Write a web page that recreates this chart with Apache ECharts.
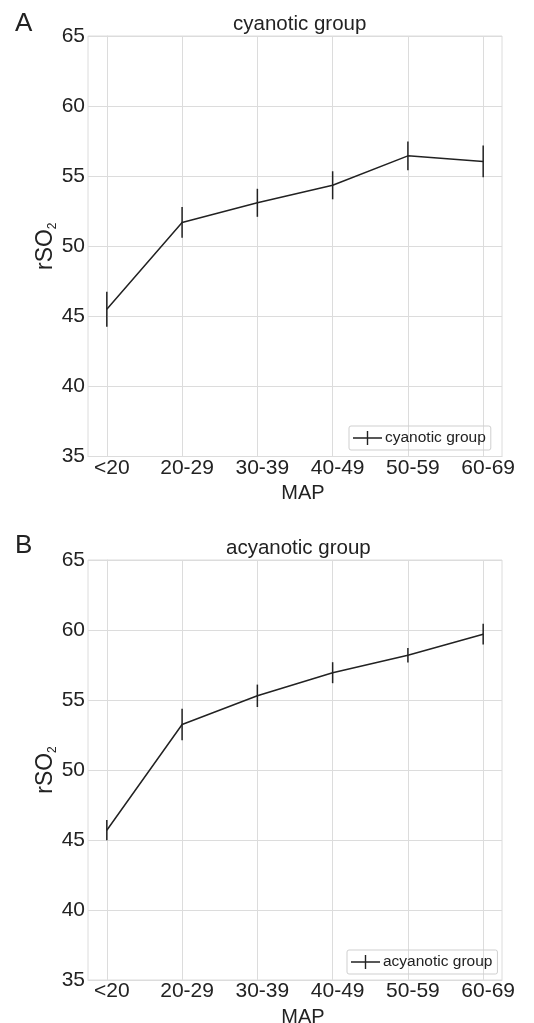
<!DOCTYPE html>
<html>
<head>
<meta charset="utf-8">
<script src="https://cdn.jsdelivr.net/npm/echarts@6/dist/echarts.min.js"></script>
<style>
  html, body { margin: 0; padding: 0; background: #fff; }
  #main { width: 534px; height: 1023px; }
</style>
</head>
<body>
<div id="main"></div>
<script>
// MAP groups on the x axis
var mapGroups = ['<20', '20-29', '30-39', '40-49', '50-59', '60-69'];
var yTicks = [35, 40, 45, 50, 55, 60, 65];

// rSO2 mean and error half-width
var cyanoticMean = [45.5, 51.7, 53.1, 54.35, 56.45, 56.05];
var cyanoticErr = [1.25, 1.1, 1.0, 1.0, 1.03, 1.13];
var acyanoticMean = [45.7, 53.25, 55.3, 56.95, 58.2, 59.7];
var acyanoticErr = [0.72, 1.13, 0.8, 0.75, 0.52, 0.74];

var FONT = 'Liberation Sans, Arial, sans-serif';
var INK = '#222';
var GRID_LINE = '#dcdcdc';
var crossIcon = 'path://M0,6.3 L29,6.3 L29,7.7 L0,7.7 Z M13.8,0 L15.2,0 L15.2,14 L13.8,14 Z';

function points(mean) {
    return mean.map(function (v, i) { return [i, v]; });
}
function errBars(mean, err) {
    return mean.map(function (v, i) { return [i, v - err[i], v + err[i]]; });
}
function renderErr(params, api) {
    var lo = api.coord([api.value(0), api.value(1)]);
    var hi = api.coord([api.value(0), api.value(2)]);
    return {
        type: 'line',
        shape: { x1: lo[0], y1: lo[1], x2: hi[0], y2: hi[1] },
        style: { stroke: INK, lineWidth: 1.5 }
    };
}

function xAxisFor(gridIndex) {
    return {
        type: 'value',
        gridIndex: gridIndex,
        min: -0.25,
        max: 5.25,
        name: 'MAP',
        nameLocation: 'middle',
        nameGap: 27,
        nameMoveOverlap: false,
        nameTextStyle: { fontFamily: FONT, fontSize: 20, color: INK, padding: [0, 0, 0, 16] },
        axisLine: { show: true, lineStyle: { color: GRID_LINE } },
        axisTick: { show: false, customValues: [0, 1, 2, 3, 4, 5] },
        axisLabel: {
            customValues: [0, 1, 2, 3, 4, 5],
            formatter: function (v) { return mapGroups[Math.round(v)]; },
            fontFamily: FONT, fontSize: 21, color: INK,
            margin: 1,
            padding: [0, 0, 0, 10]
        },
        splitLine: { show: true, lineStyle: { color: GRID_LINE } }
    };
}
function yAxisFor(gridIndex) {
    return {
        type: 'value',
        gridIndex: gridIndex,
        min: yTicks[0],
        max: yTicks[yTicks.length - 1],
        interval: 5,
        name: '{a|rSO}{b|2}',
        nameLocation: 'middle',
        nameGap: 29,
        nameMoveOverlap: false,
        nameTextStyle: {
            rich: {
                a: { fontFamily: FONT, fontSize: 23, color: INK, lineHeight: 26 },
                b: { fontFamily: FONT, fontSize: 12, color: INK, lineHeight: 26, verticalAlign: 'bottom' }
            }
        },
        axisLine: { show: true, lineStyle: { color: GRID_LINE } },
        axisTick: { show: false },
        axisLabel: { fontFamily: FONT, fontSize: 21, color: INK, margin: 3 },
        splitLine: { show: true, lineStyle: { color: GRID_LINE } }
    };
}
function legendFor(name, left, top) {
    return {
        data: [{ name: name, icon: crossIcon }],
        left: left,
        top: top,
        itemWidth: 29,
        itemHeight: 14,
        itemGap: 0,
        padding: [4, 5, 4, 4],
        borderColor: '#cfcfcf',
        borderWidth: 1,
        borderRadius: 2,
        selectedMode: false,
        textStyle: { fontFamily: FONT, fontSize: 15.5, color: INK, padding: [0, 0, 0, -2] }
    };
}

var myChart = echarts.init(document.getElementById('main'));
var option = {
    animation: false,
    backgroundColor: '#fff',
    title: [
        { text: 'A', left: 10, top: 6, textStyle: { fontFamily: FONT, fontSize: 26, fontWeight: 'normal', color: INK } },
        { text: 'cyanotic group', left: 228, top: 9, textStyle: { fontFamily: FONT, fontSize: 20.5, fontWeight: 'normal', color: INK } },
        { text: 'B', left: 10, top: 528, textStyle: { fontFamily: FONT, fontSize: 26, fontWeight: 'normal', color: INK } },
        { text: 'acyanotic group', left: 221, top: 533, textStyle: { fontFamily: FONT, fontSize: 20.5, fontWeight: 'normal', color: INK } }
    ],
    grid: [
        { left: 88, top: 36, width: 414, height: 420.5, outerBoundsMode: 'none', containLabel: false, show: true, borderColor: GRID_LINE, borderWidth: 1 },
        { left: 88, top: 560, width: 414, height: 420, outerBoundsMode: 'none', containLabel: false, show: true, borderColor: GRID_LINE, borderWidth: 1 }
    ],
    legend: [
        legendFor('cyanotic group', 349, 426),
        legendFor('acyanotic group', 347, 950)
    ],
    xAxis: [xAxisFor(0), xAxisFor(1)],
    yAxis: [yAxisFor(0), yAxisFor(1)],
    series: [
        {
            name: 'cyanotic group',
            type: 'line',
            xAxisIndex: 0, yAxisIndex: 0,
            data: points(cyanoticMean),
            symbol: 'none',
            itemStyle: { color: INK },
            lineStyle: { color: INK, width: 1.5 },
            emphasis: { disabled: true }
        },
        {
            type: 'custom',
            xAxisIndex: 0, yAxisIndex: 0,
            data: errBars(cyanoticMean, cyanoticErr),
            renderItem: renderErr,
            silent: true
        },
        {
            name: 'acyanotic group',
            type: 'line',
            xAxisIndex: 1, yAxisIndex: 1,
            data: points(acyanoticMean),
            symbol: 'none',
            itemStyle: { color: INK },
            lineStyle: { color: INK, width: 1.5 },
            emphasis: { disabled: true }
        },
        {
            type: 'custom',
            xAxisIndex: 1, yAxisIndex: 1,
            data: errBars(acyanoticMean, acyanoticErr),
            renderItem: renderErr,
            silent: true
        }
    ]
};
myChart.setOption(option);
</script>
</body>
</html>
